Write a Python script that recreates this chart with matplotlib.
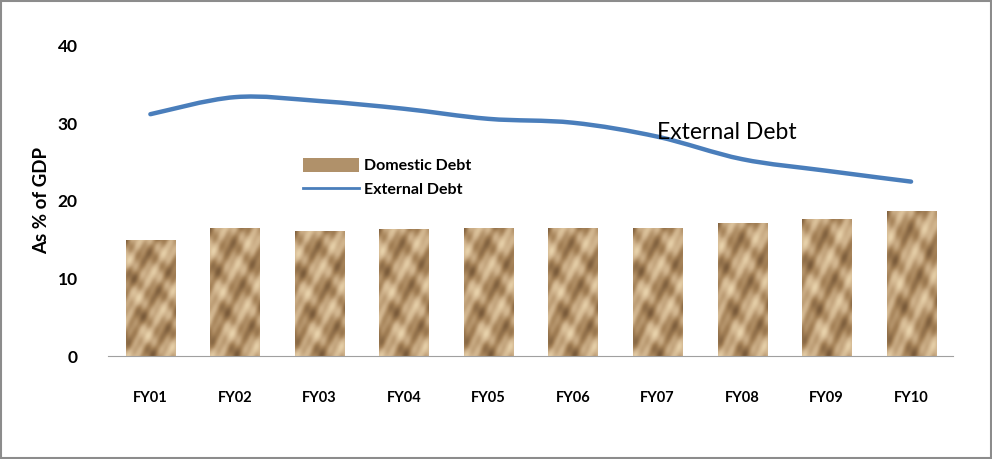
import numpy as np
import matplotlib.pyplot as plt
from matplotlib.path import Path
from matplotlib.patches import PathPatch, Rectangle
from matplotlib.lines import Line2D
from matplotlib.colors import LinearSegmentedColormap

years = ['FY01', 'FY02', 'FY03', 'FY04', 'FY05', 'FY06', 'FY07', 'FY08', 'FY09', 'FY10']
domestic_debt = [15.0, 16.5, 16.1, 16.4, 16.5, 16.5, 16.5, 17.2, 17.7, 18.7]
external_debt = [31.2, 33.4, 32.9, 31.9, 30.6, 30.1, 28.3, 25.4, 23.9, 22.5]

plt.rcParams['font.family'] = ['Lato', 'DejaVu Sans']

fig = plt.figure(figsize=(9.92, 4.59), dpi=100)
ax = fig.add_axes([0.109, 0.2244, 0.852, 0.6754])

# sandy texture used to fill the bars (like the picture fill in the original)
sand = LinearSegmentedColormap.from_list('sand', ['#7a5b3a', '#a58258', '#cdb089', '#e8d2ab'])
u, v = np.meshgrid(np.linspace(0, 1, 60), np.linspace(0, 1, 160))
tex = (np.sin(9 * u - 14 * v + 0.4) + 0.7 * np.sin(23 * v + 6 * u + 1.3)
       + 0.4 * np.sin(31 * u - 40 * v + 0.7) + 0.35 * np.cos(17 * u + 29 * v))

x = np.arange(len(years))
bars = ax.bar(x, domestic_debt, width=0.58, color='#c2a176', zorder=2)
for b in bars:
    x0, w, h = b.get_x(), b.get_width(), b.get_height()
    im = ax.imshow(tex, cmap=sand, extent=(x0, x0 + w, 0, h), origin='lower',
                   aspect='auto', interpolation='bilinear', zorder=2)
    im.set_clip_path(b)

# smooth line through the points (Catmull-Rom -> cubic Bezier)
pts = np.column_stack([x, external_debt]).astype(float)
verts = [pts[0]]
codes = [Path.MOVETO]
for i in range(len(pts) - 1):
    p0 = pts[i - 1] if i > 0 else pts[i]
    p1, p2 = pts[i], pts[i + 1]
    p3 = pts[i + 2] if i + 2 < len(pts) else pts[i + 1]
    verts += [p1 + (p2 - p0) / 6, p2 - (p3 - p1) / 6, p2]
    codes += [Path.CURVE4] * 3
ax.add_patch(PathPatch(Path(verts, codes), fill=False, edgecolor='#4a7ebb',
                       lw=3.2, capstyle='round', zorder=3))

ax.set_xlim(-0.5, len(years) - 0.5)
ax.set_ylim(0, 40)
ax.set_yticks([0, 10, 20, 30, 40])
ax.set_xticks(x)
ax.set_xticklabels(years, fontsize=10.5, fontweight='bold')
for t in ax.get_yticklabels():
    t.set_fontsize(12.5)
    t.set_fontweight('bold')
ax.tick_params(length=0)
ax.tick_params(axis='x', pad=25)
ax.tick_params(axis='y', pad=22)
for s in ['top', 'right', 'left']:
    ax.spines[s].set_visible(False)
ax.spines['bottom'].set_color('#a0a0a0')
ax.set_ylabel('As % of GDP', fontsize=13.5, fontweight='bold', labelpad=5)

ax.text(6.0, 28.0, 'External Debt', fontsize=16.5, color='black')

handles = [Rectangle((0, 0), 1, 1, facecolor='#b0916a'),
           Line2D([], [], color='#4a7ebb', lw=2)]
ax.legend(handles, ['Domestic Debt', 'External Debt'], loc='upper left',
          bbox_to_anchor=(0.231, 0.64), frameon=False, handlelength=3.5,
          handleheight=1.0, handletextpad=0.3, labelspacing=0.5,
          borderpad=0, borderaxespad=0,
          prop={'size': 11.5, 'weight': 'bold'})

# thin grey frame around the picture
fig.patches.append(Rectangle((0.001, 0.002), 0.998, 0.996, transform=fig.transFigure,
                             fill=False, edgecolor='#8c8c8c', lw=1.5))

fig.savefig('out.png', dpi=100)
